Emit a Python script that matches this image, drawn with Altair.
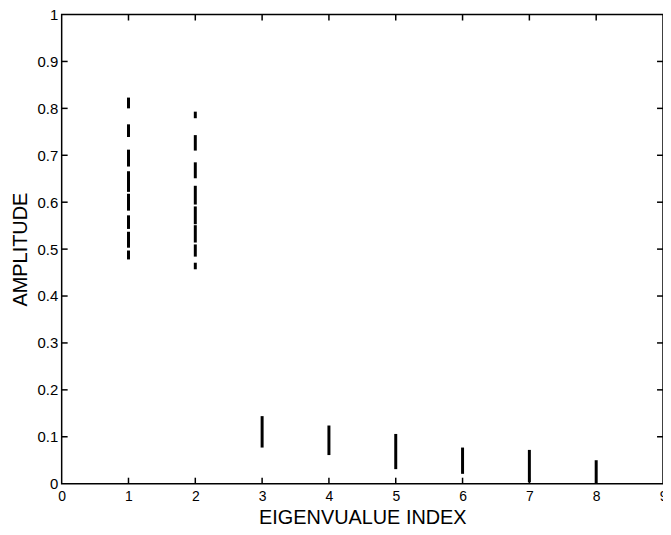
import altair as alt
import pandas as pd

# Eigenvalue index of each drawn cluster segment, with its low / high amplitude
seg_index = [1, 1, 1, 1, 1, 1, 1, 1,
             2, 2, 2, 2, 2, 2, 2, 2,
             3, 4, 5, 6, 7, 8]
seg_low = [0.800, 0.739, 0.676, 0.622, 0.582, 0.543, 0.503, 0.478,
           0.779, 0.710, 0.651, 0.595, 0.553, 0.514, 0.484, 0.457,
           0.077, 0.061, 0.031, 0.021, 0.003, 0.000]
seg_high = [0.823, 0.766, 0.712, 0.666, 0.618, 0.572, 0.537, 0.497,
            0.793, 0.743, 0.685, 0.635, 0.591, 0.551, 0.510, 0.471,
            0.144, 0.124, 0.106, 0.077, 0.072, 0.050]

x_ticks = [0, 1, 2, 3, 4, 5, 6, 7, 8, 9]
y_ticks = [0, 0.1, 0.2, 0.3, 0.4, 0.5, 0.6, 0.7, 0.8, 0.9, 1]
x_inner_ticks = [1, 2, 3, 4, 5, 6, 7, 8]
y_inner_ticks = [0.1, 0.2, 0.3, 0.4, 0.5, 0.6, 0.7, 0.8, 0.9]

W, H = 605, 472
TL = 6
FONT = "Liberation Sans"

segs = pd.DataFrame({"idx": seg_index, "lo": seg_low, "hi": seg_high})
xt = pd.DataFrame({"v": x_inner_ticks})
yt = pd.DataFrame({"v": y_inner_ticks})

xscale = alt.Scale(domain=[0, 9], nice=False, zero=False)
yscale = alt.Scale(domain=[0, 1], nice=False, zero=False)

xaxis = alt.Axis(values=x_ticks, format="d", title="EIGENVUALUE INDEX", grid=False, domain=False,
                 ticks=False, tickSize=0, labelPadding=6, labelFontSize=14,
                 labelFont=FONT, labelColor="black", titleFont=FONT, titleFontSize=20,
                 titleFontWeight="normal", titleColor="black", titleX=W / 2, titleY=40,
                 titleBaseline="alphabetic", titleAlign="center", labelFlush=False)
yaxis = alt.Axis(values=y_ticks, format="~g", title="AMPLITUDE", grid=False, domain=False,
                 ticks=False, tickSize=0, labelPadding=4, labelFontSize=15,
                 labelFont=FONT, labelColor="black", titleFont=FONT, titleFontSize=20,
                 titleFontWeight="normal", titleColor="black", titleX=-41, titleY=H / 2,
                 titleAngle=270, titleBaseline="middle", titleAlign="center", labelFlush=False)

bars = alt.Chart(segs).mark_rule(color="black", strokeWidth=3, strokeCap="butt").encode(
    x=alt.X("idx:Q", scale=xscale, axis=xaxis),
    y=alt.Y("lo:Q", scale=yscale, axis=yaxis),
    y2="hi:Q",
)

tick_style = dict(color="black", strokeWidth=1.5)
xt_bottom = alt.Chart(xt).mark_rule(**tick_style).encode(
    x=alt.X("v:Q", scale=xscale), y=alt.value(H), y2=alt.value(H - TL))
xt_top = alt.Chart(xt).mark_rule(**tick_style).encode(
    x=alt.X("v:Q", scale=xscale), y=alt.value(0), y2=alt.value(TL))
yt_left = alt.Chart(yt).mark_rule(**tick_style).encode(
    y=alt.Y("v:Q", scale=yscale), x=alt.value(0), x2=alt.value(TL))
yt_right = alt.Chart(yt).mark_rule(**tick_style).encode(
    y=alt.Y("v:Q", scale=yscale), x=alt.value(W - TL), x2=alt.value(W))

chart = alt.layer(bars, xt_bottom, xt_top, yt_left, yt_right).properties(
    width=W, height=H,
    autosize=alt.AutoSizeParams(type="none"),
    padding={"left": 54, "top": 5, "right": 0, "bottom": 42},
    background="white",
).configure_view(stroke="black", strokeWidth=1.5)

chart.save("out.html", embed_options={"renderer": "svg", "actions": False})
